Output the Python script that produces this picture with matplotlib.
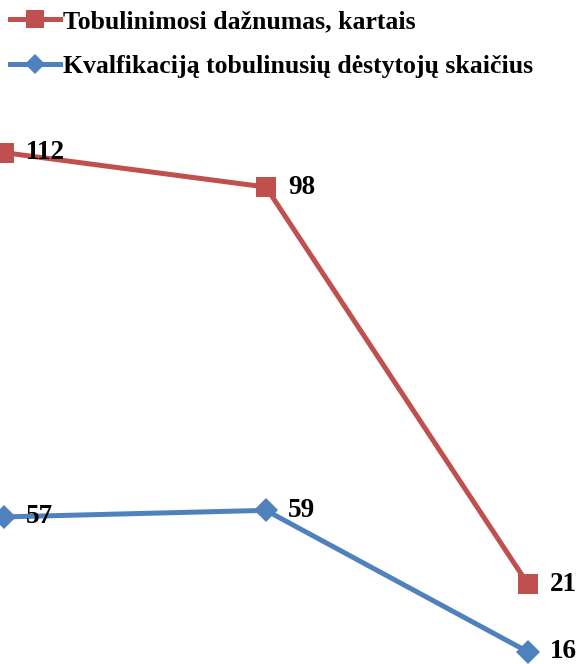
import numpy as np
import matplotlib
matplotlib.use("Agg")
import matplotlib.pyplot as plt

# --------------------------
# Data
# --------------------------
categories = ["A", "B", "C"]
freq_label = "Tobulinimosi dažnumas, kartais"
freq_values = [112, 98, 21]
teach_label = "Kvalfikaciją tobulinusių dėstytojų skaičius"
teach_values = [57, 59, 16]

RED = "#C0504D"
BLUE = "#4F81BD"
FS = 19.5
LEG_FS = 18.5

plt.rcParams['font.family'] = ['Liberation Serif', 'DejaVu Serif']
plt.rcParams['font.weight'] = 'bold'

fig = plt.figure(figsize=(5.85, 6.64), dpi=100)

# red series on a log axis, blue series on a linear twin axis
ax1 = fig.add_axes([0, 0, 1, 1])
ax2 = ax1.twinx()

x = np.arange(len(categories))

ax1.set_yscale("log")
ax1.set_ylim(15.40, 202.5)
ax2.set_ylim(12.3, 214.1)
ax1.set_xlim(-0.015, 2.218)

l1, = ax1.plot(x, freq_values, color=RED, lw=3.6, marker="s", ms=14.5,
               markeredgewidth=0, label=freq_label, zorder=3)
l2, = ax2.plot(x, teach_values, color=BLUE, lw=3.6, marker="D", ms=12,
               markeredgewidth=0, label=teach_label, zorder=3)

for xi, v in zip(x, freq_values):
    ax1.annotate(str(v), (xi, v), xytext=(16, 0), textcoords="offset points",
                 ha="left", va="center", fontsize=FS, fontweight="bold", zorder=5)
for xi, v in zip(x, teach_values):
    ax2.annotate(str(v), (xi, v), xytext=(16, 0), textcoords="offset points",
                 ha="left", va="center", fontsize=FS, fontweight="bold", zorder=5)

for ax in (ax1, ax2):
    ax.axis("off")

fig.legend(handles=[l1, l2], loc="upper left", bbox_to_anchor=(0.0, 1.0),
           frameon=False, handlelength=1.95, handletextpad=0.12,
           labelspacing=0.85, borderaxespad=0.0, borderpad=0.4,
           markerscale=0.85, prop={'weight': 'bold', 'size': LEG_FS})

fig.savefig("out.png", dpi=100)
